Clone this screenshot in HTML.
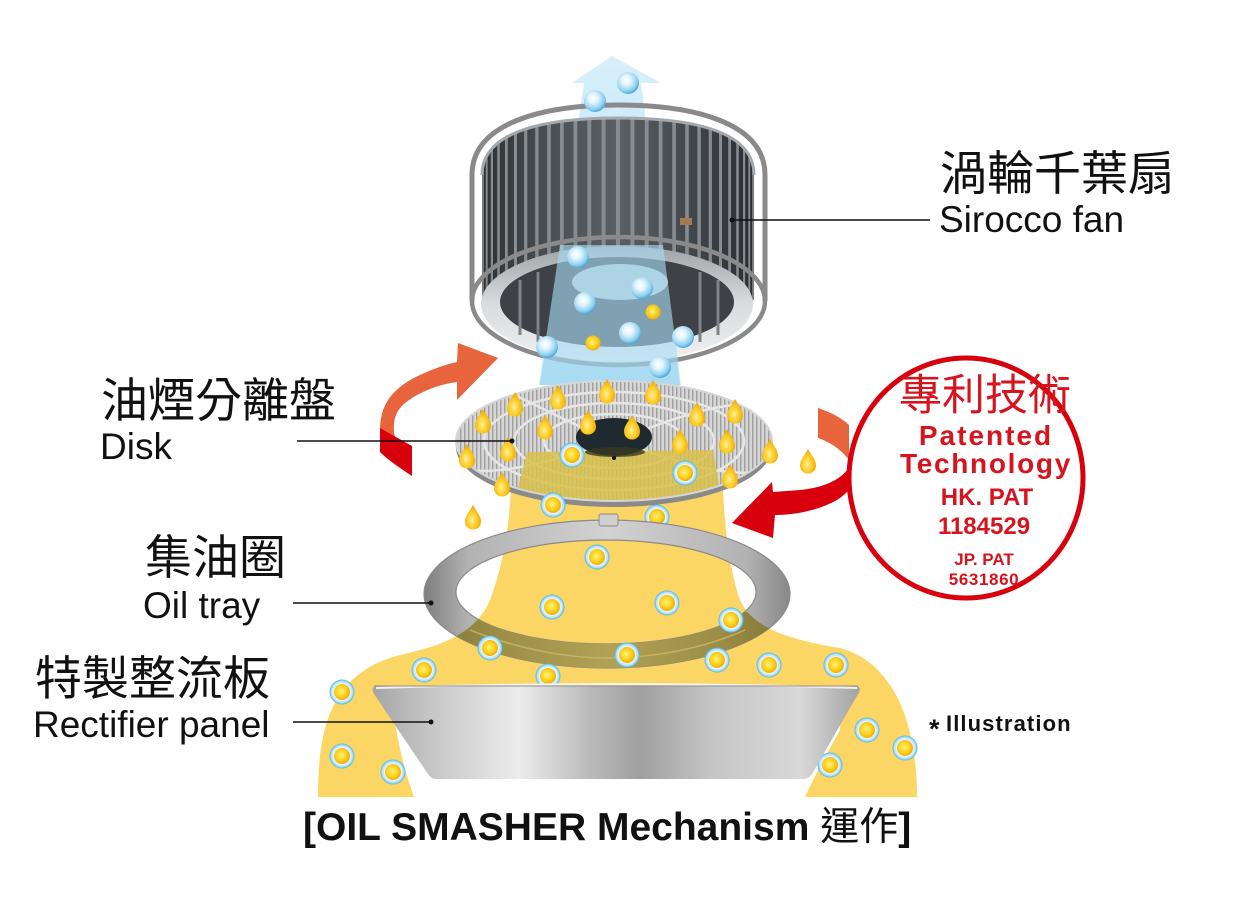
<!DOCTYPE html>
<html><head><meta charset="utf-8">
<style>
html,body{margin:0;padding:0;background:#fff;}
svg{display:block;}
.cjk{font-family:"Liberation Sans","Noto Sans CJK TC",sans-serif;}
.lat{font-family:"Liberation Sans",sans-serif;}
</style></head><body>
<svg width="1242" height="913" viewBox="0 0 1242 913" xmlns="http://www.w3.org/2000/svg">
<defs>
 <radialGradient id="gBlue" cx="0.42" cy="0.38" r="0.62">
  <stop offset="0" stop-color="#ffffff"/>
  <stop offset="0.35" stop-color="#e2f4fc"/>
  <stop offset="0.8" stop-color="#8ccff0"/>
  <stop offset="1" stop-color="#4aa9da"/>
 </radialGradient>
 <radialGradient id="gRing" cx="0.5" cy="0.5" r="0.5">
  <stop offset="0.62" stop-color="#f2fbff"/>
  <stop offset="0.85" stop-color="#b5e3f7"/>
  <stop offset="1" stop-color="#45b2e5"/>
 </radialGradient>
 <radialGradient id="gGold" cx="0.45" cy="0.45" r="0.6">
  <stop offset="0" stop-color="#fff27a"/>
  <stop offset="0.55" stop-color="#ffd21f"/>
  <stop offset="1" stop-color="#f0a400"/>
 </radialGradient>
 <radialGradient id="gDrop" cx="0.45" cy="0.62" r="0.6">
  <stop offset="0" stop-color="#fff09a"/>
  <stop offset="0.5" stop-color="#ffce2a"/>
  <stop offset="1" stop-color="#eda300"/>
 </radialGradient>
 <linearGradient id="gCol" x1="0" y1="56" x2="0" y2="385" gradientUnits="userSpaceOnUse">
  <stop offset="0" stop-color="#d4eefa"/>
  <stop offset="1" stop-color="#a4d8f1"/>
 </linearGradient>
 <linearGradient id="gFan" x1="482" y1="0" x2="754" y2="0" gradientUnits="userSpaceOnUse">
  <stop offset="0" stop-color="#2c3033"/>
  <stop offset="0.25" stop-color="#4b5054"/>
  <stop offset="0.5" stop-color="#5a5f63"/>
  <stop offset="0.75" stop-color="#44494d"/>
  <stop offset="1" stop-color="#2a2d30"/>
 </linearGradient>
 <linearGradient id="gSilver" x1="0" y1="246" x2="0" y2="362" gradientUnits="userSpaceOnUse">
  <stop offset="0" stop-color="#9ea2a5"/>
  <stop offset="0.5" stop-color="#d9dcde"/>
  <stop offset="1" stop-color="#eef0f1"/>
 </linearGradient>
 <linearGradient id="gTray" x1="424" y1="0" x2="790" y2="0" gradientUnits="userSpaceOnUse">
  <stop offset="0" stop-color="#7e7e7e"/>
  <stop offset="0.12" stop-color="#b2b2b2"/>
  <stop offset="0.5" stop-color="#d2d2d2"/>
  <stop offset="0.88" stop-color="#b2b2b2"/>
  <stop offset="1" stop-color="#888888"/>
 </linearGradient>
 <linearGradient id="gOlive" x1="424" y1="0" x2="790" y2="0" gradientUnits="userSpaceOnUse">
  <stop offset="0" stop-color="#7f7336"/>
  <stop offset="0.2" stop-color="#9c8e46"/>
  <stop offset="0.5" stop-color="#b0a155"/>
  <stop offset="0.8" stop-color="#9c8e46"/>
  <stop offset="1" stop-color="#7f7336"/>
 </linearGradient>
 <linearGradient id="gPanel" x1="372" y1="0" x2="860" y2="0" gradientUnits="userSpaceOnUse">
  <stop offset="0" stop-color="#a5a5a5"/>
  <stop offset="0.12" stop-color="#c6c6c6"/>
  <stop offset="0.3" stop-color="#ececec"/>
  <stop offset="0.45" stop-color="#b9b9b9"/>
  <stop offset="0.55" stop-color="#a0a0a0"/>
  <stop offset="0.7" stop-color="#c6c6c6"/>
  <stop offset="0.88" stop-color="#d8d8d8"/>
  <stop offset="1" stop-color="#a2a2a2"/>
 </linearGradient>
 <pattern id="hatch" width="4" height="4" patternUnits="userSpaceOnUse">
  <rect width="4" height="4" fill="#d6d6d6"/>
  <rect width="1.4" height="4" fill="#a0a0a0"/>
 </pattern>
 <clipPath id="cFan"><path d="M482,175 C482,130 548,118 618,118 C690,118 754,130 754,175 L754,300 L482,300 Z"/></clipPath>
 <clipPath id="cDisk"><ellipse cx="614" cy="441" rx="158" ry="60"/></clipPath>
 <clipPath id="cTray"><path fill-rule="evenodd" clip-rule="evenodd" d="M424,594 A183,74 0 1,0 790,594 A183,74 0 1,0 424,594 Z M456,592 A150,52 0 1,0 756,592 A150,52 0 1,0 456,592 Z"/></clipPath>
 <clipPath id="cLow"><rect x="0" y="612" width="1242" height="200"/></clipPath>
 <g id="ob"><circle r="12.5" fill="url(#gRing)"/><circle r="8" fill="url(#gGold)"/></g>
 <g id="bs"><circle r="11" fill="url(#gBlue)"/></g>
 <g id="ys"><circle r="7.5" fill="url(#gGold)"/></g>
 <g id="dr"><path d="M0,-13 C3,-7 8,-2.5 8,3.5 C8,8.5 4.5,11.5 0,11.5 C-4.5,11.5 -8,8.5 -8,3.5 C-8,-2.5 -3,-7 0,-13 Z" fill="url(#gDrop)"/></g>
</defs>

<rect width="1242" height="913" fill="#ffffff"/>

<!-- yellow oil flow -->
<path d="M512,470 L722,470 C724,520 728,565 740,600 C752,628 790,640 840,648 C892,662 917,720 917,797 L805,797 C815,775 828,752 840,730 L842,690 L384,690 L396,728 C400,752 406,775 414,797 L318,797 C318,720 335,672 400,655 C440,646 475,635 490,600 C505,560 510,520 512,470 Z" fill="#fcd664"/>

<!-- blue air column + arrow -->
<path d="M612,56 L661,83 L641,83 L680,385 L540,385 L584,83 L572,83 Z" fill="url(#gCol)" opacity="0.92"/>

<!-- fan frame -->
<path d="M472,301 L472,175 C472,122 545,105 618,105 C692,105 765,122 765,175 L765,301" fill="none" stroke="#8a8a8a" stroke-width="5"/>
<!-- fan blades body -->
<path d="M482,175 C482,130 548,118 618,118 C690,118 754,130 754,175 L754,300 L482,300 Z" fill="url(#gFan)"/>
<g clip-path="url(#cFan)" stroke="#868c90">
 <line x1="480.8" y1="100" x2="480.8" y2="300" stroke-width="1.3"/>
 <line x1="483" y1="100" x2="483" y2="300" stroke-width="1.6"/>
 <line x1="486.7" y1="100" x2="486.7" y2="300" stroke-width="1.9"/>
 <line x1="491.9" y1="100" x2="491.9" y2="300" stroke-width="2.2"/>
 <line x1="498.5" y1="100" x2="498.5" y2="300" stroke-width="2.5"/>
 <line x1="506.4" y1="100" x2="506.4" y2="300" stroke-width="2.8"/>
 <line x1="515.5" y1="100" x2="515.5" y2="300" stroke-width="3"/>
 <line x1="525.7" y1="100" x2="525.7" y2="300" stroke-width="3.2"/>
 <line x1="536.9" y1="100" x2="536.9" y2="300" stroke-width="3.4"/>
 <line x1="549" y1="100" x2="549" y2="300" stroke-width="3.6"/>
 <line x1="561.9" y1="100" x2="561.9" y2="300" stroke-width="3.7"/>
 <line x1="575.4" y1="100" x2="575.4" y2="300" stroke-width="3.8"/>
 <line x1="589.3" y1="100" x2="589.3" y2="300" stroke-width="3.9"/>
 <line x1="603.6" y1="100" x2="603.6" y2="300" stroke-width="4"/>
 <line x1="618" y1="100" x2="618" y2="300" stroke-width="4"/>
 <line x1="632.4" y1="100" x2="632.4" y2="300" stroke-width="4"/>
 <line x1="646.7" y1="100" x2="646.7" y2="300" stroke-width="3.9"/>
 <line x1="660.6" y1="100" x2="660.6" y2="300" stroke-width="3.8"/>
 <line x1="674.1" y1="100" x2="674.1" y2="300" stroke-width="3.7"/>
 <line x1="687" y1="100" x2="687" y2="300" stroke-width="3.6"/>
 <line x1="699.1" y1="100" x2="699.1" y2="300" stroke-width="3.4"/>
 <line x1="710.3" y1="100" x2="710.3" y2="300" stroke-width="3.2"/>
 <line x1="720.5" y1="100" x2="720.5" y2="300" stroke-width="3"/>
 <line x1="729.6" y1="100" x2="729.6" y2="300" stroke-width="2.8"/>
 <line x1="737.5" y1="100" x2="737.5" y2="300" stroke-width="2.5"/>
 <line x1="744.1" y1="100" x2="744.1" y2="300" stroke-width="2.2"/>
 <line x1="749.3" y1="100" x2="749.3" y2="300" stroke-width="1.9"/>
 <line x1="753" y1="100" x2="753" y2="300" stroke-width="1.6"/>
</g>
<path d="M482,175 C482,130 548,118 618,118 C690,118 754,130 754,175" fill="none" stroke="#a4a9ad" stroke-width="3"/>
<rect x="680" y="218" width="12" height="7" fill="#a37a52"/>
<!-- bottom silver ring & inner -->
<ellipse cx="617" cy="304" rx="136" ry="58" fill="url(#gSilver)"/>
<ellipse cx="617" cy="302" rx="117" ry="45" fill="#3e4246"/>
<g stroke="#7d8387" stroke-width="3">
 <line x1="520" y1="280" x2="520" y2="335"/>
 <line x1="538" y1="272" x2="538" y2="342"/>
 <line x1="700" y1="272" x2="700" y2="342"/>
 <line x1="718" y1="280" x2="718" y2="335"/>
</g>
<ellipse cx="620" cy="282" rx="48" ry="18" fill="#b9c6cb"/>
<ellipse cx="618.5" cy="301" rx="146.5" ry="64" fill="none" stroke="#8a8a8a" stroke-width="4.5"/>
<!-- translucent blue over fan interior -->
<path d="M560,245 L663,245 L681,385 L539,385 Z" fill="#a8dcf4" opacity="0.62"/>

<!-- disk -->
<ellipse cx="614" cy="447" rx="158" ry="60" fill="#8a8a8a"/>
<ellipse cx="614" cy="441" rx="158" ry="60" fill="url(#hatch)"/>
<g fill="none" stroke="#e6e6e6" stroke-width="2.5" clip-path="url(#cDisk)">
 <ellipse cx="614" cy="441" rx="130" ry="49"/>
 <ellipse cx="614" cy="441" rx="100" ry="38"/>
 <ellipse cx="614" cy="441" rx="70" ry="27"/>
 <path d="M614,441 C560,420 520,395 490,385"/>
 <path d="M614,441 C670,420 720,400 760,405"/>
 <path d="M614,441 C560,460 500,475 470,470"/>
 <path d="M614,441 C680,462 730,480 765,470"/>
</g>
<polygon points="527,452 713,450 724,512 512,512" fill="#d8c04a" opacity="0.85" clip-path="url(#cDisk)"/>
<ellipse cx="614" cy="441" rx="158" ry="60" fill="none" stroke="#d6d6d6" stroke-width="2"/>
<ellipse cx="614" cy="437" rx="38" ry="19" fill="#1e2a2f"/>
<ellipse cx="615" cy="452" rx="30" ry="5" fill="#3a3a22" opacity="0.8"/>
<circle cx="614" cy="458" r="2" fill="#111"/>

<!-- bubbles behind ring -->
<use href="#ob" x="572" y="455"/>
<use href="#ob" x="685" y="473"/>
<use href="#ob" x="553" y="505"/>
<use href="#ob" x="657" y="517"/>

<!-- oil tray -->
<path fill-rule="evenodd" d="M424,594 A183,74 0 1,0 790,594 A183,74 0 1,0 424,594 Z M456,592 A150,52 0 1,0 756,592 A150,52 0 1,0 456,592 Z" fill="url(#gTray)" stroke="#8a8a8a" stroke-width="1.2"/>
<g clip-path="url(#cTray)">
 <path d="M512,470 L722,470 C724,520 728,565 740,600 C752,628 790,640 840,648 C892,662 917,720 917,797 L805,797 C815,775 828,752 840,730 L842,690 L384,690 L396,728 C400,752 406,775 414,797 L318,797 C318,720 335,672 400,655 C440,646 475,635 490,600 C505,560 510,520 512,470 Z" fill="url(#gOlive)" clip-path="url(#cLow)"/>
</g>
<path d="M470,630 C520,650 570,658 606,658 C650,658 700,650 745,630" fill="none" stroke="#c9ba6a" stroke-width="1.5" opacity="0.8"/>
<rect x="599" y="514" width="19" height="12" rx="2" fill="#cfcfcf" stroke="#8a8a8a" stroke-width="1"/>

<!-- oil bubbles -->
<use href="#ob" x="597" y="557"/>
<use href="#ob" x="552" y="607"/>
<use href="#ob" x="667" y="603"/>
<use href="#ob" x="731" y="620"/>
<use href="#ob" x="490" y="648"/>
<use href="#ob" x="627" y="655"/>
<use href="#ob" x="717" y="660"/>
<use href="#ob" x="769" y="665"/>
<use href="#ob" x="836" y="665"/>
<use href="#ob" x="424" y="670"/>
<use href="#ob" x="548" y="676"/>
<use href="#ob" x="342" y="692"/>
<use href="#ob" x="342" y="756"/>
<use href="#ob" x="393" y="772"/>
<use href="#ob" x="867" y="730"/>
<use href="#ob" x="905" y="748"/>
<use href="#ob" x="830" y="765"/>

<!-- rectifier panel -->
<path d="M378,686 L854,686 Q863,686 858,694 L812,774 Q809,779 803,779 L437,779 Q431,779 428,774 L374,694 Q370,686 378,686 Z" fill="url(#gPanel)"/>
<path d="M376,688 Q616,680 857,688" fill="none" stroke="#f2f2f2" stroke-width="2"/>
<path d="M374,686 L858,686" fill="none" stroke="#8e8e8e" stroke-width="1"/>

<!-- blue spheres & fan yellow -->
<use href="#bs" x="628" y="83"/>
<use href="#bs" x="595" y="101"/>
<use href="#bs" x="578" y="257"/>
<use href="#bs" x="642" y="288"/>
<use href="#bs" x="585" y="303"/>
<use href="#bs" x="630" y="333"/>
<use href="#bs" x="683" y="337"/>
<use href="#bs" x="547" y="347"/>
<use href="#bs" x="660" y="367"/>
<use href="#ys" x="653" y="312"/>
<use href="#ys" x="593" y="343"/>

<!-- droplets -->
<use href="#dr" x="515" y="405"/>
<use href="#dr" x="558" y="398"/>
<use href="#dr" x="607" y="392"/>
<use href="#dr" x="653" y="393"/>
<use href="#dr" x="483" y="422"/>
<use href="#dr" x="545" y="428"/>
<use href="#dr" x="588" y="423"/>
<use href="#dr" x="632" y="428"/>
<use href="#dr" x="697" y="415"/>
<use href="#dr" x="735" y="412"/>
<use href="#dr" x="467" y="457"/>
<use href="#dr" x="508" y="450"/>
<use href="#dr" x="680" y="442"/>
<use href="#dr" x="727" y="442"/>
<use href="#dr" x="770" y="452"/>
<use href="#dr" x="502" y="485"/>
<use href="#dr" x="730" y="477"/>
<use href="#dr" x="808" y="462"/>
<use href="#dr" x="473" y="518"/>

<!-- rotation arrows -->
<path d="M380,430 C380,405 392,388 420,375 C435,368 448,364 457,362 L458,343 L498,358 L457,400 L457,382 C440,384 418,392 404,404 C395,412 392,422 395,438 Z" fill="#e8643c"/>
<path d="M380,428 L412,446 L412,476 C400,468 388,460 380,452 Z" fill="#d9000d"/>
<path d="M818,408 C830,412 842,418 849,425 L849,460 C842,450 830,442 818,438 Z" fill="#e8643c"/>
<path d="M852,462 C846,476 830,487 800,490 L773,492 L772,482 L732,523 L773,538 L775,515 C800,515 825,508 840,498 C848,492 853,486 855,478 Z" fill="#d9000d"/>

<!-- patent circle -->
<ellipse cx="966" cy="478" rx="117" ry="120" fill="#ffffff" stroke="#d9000d" stroke-width="5"/>
<g fill="#d7141e" text-anchor="middle">
 <text class="cjk" x="985" y="410" font-size="43">專利技術</text>
 <text class="lat" x="986" y="445" font-size="28" font-weight="700" letter-spacing="2">Patented</text>
 <text class="lat" x="986" y="473" font-size="28" font-weight="700" letter-spacing="1.7">Technology</text>
 <text class="lat" x="987" y="505" font-size="24" font-weight="700">HK. PAT</text>
 <text class="lat" x="984" y="534" font-size="24" font-weight="700">1184529</text>
 <text class="lat" x="984" y="565" font-size="17" font-weight="700">JP. PAT</text>
 <text class="lat" x="984" y="585" font-size="17" font-weight="700" letter-spacing="0.6">5631860</text>
</g>

<!-- leader lines -->
<g stroke="#111" stroke-width="1.5">
 <line x1="732" y1="220" x2="930" y2="220"/>
 <line x1="297" y1="441" x2="512" y2="441"/>
 <line x1="293" y1="603" x2="431" y2="603"/>
 <line x1="293" y1="722" x2="431" y2="722"/>
</g>
<g fill="#111">
 <circle cx="732" cy="220" r="2.5"/>
 <circle cx="512" cy="441" r="2.5"/>
 <circle cx="431" cy="603" r="2.5"/>
 <circle cx="431" cy="722" r="2.5"/>
</g>

<!-- labels -->
<g fill="#111">
 <text class="cjk" x="940" y="190" font-size="47">渦輪千葉扇</text>
 <text class="lat" x="939" y="232" font-size="37">Sirocco fan</text>
 <text class="cjk" x="101" y="417" font-size="47">油煙分離盤</text>
 <text class="lat" x="100" y="459" font-size="37">Disk</text>
 <text class="cjk" x="145" y="574" font-size="47">集油圈</text>
 <text class="lat" x="143" y="618" font-size="37">Oil tray</text>
 <text class="cjk" x="35" y="695" font-size="47">特製整流板</text>
 <text class="lat" x="33" y="737" font-size="37">Rectifier panel</text>
 <text class="lat" x="929" y="738" font-size="27" font-weight="700">*</text>
 <text class="lat" x="946" y="731" font-size="22" font-weight="700" letter-spacing="1.1">Illustration</text>
 <text class="cjk" x="303" y="840" font-size="39" font-weight="700">[OIL SMASHER Mechanism <tspan font-weight="400">運作</tspan>]</text>
</g>
</svg>
</body></html>
